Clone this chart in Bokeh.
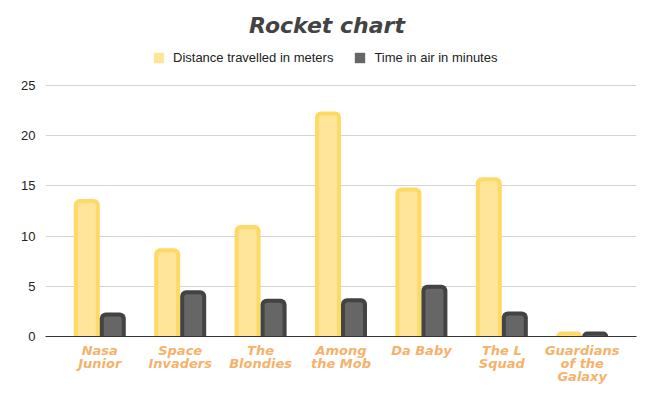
from bokeh.plotting import figure
from bokeh.models import FactorRange, Range1d, ColumnDataSource, Legend, LegendItem, FixedTicker, Label
from bokeh.transform import dodge
from bokeh.embed import file_html
from bokeh.resources import INLINE

# ---- data ----
teams = ["Nasa\nJunior", "Space\nInvaders", "The\nBlondies", "Among\nthe Mob",
         "Da Baby", "The L\nSquad", "Guardians\nof the\nGalaxy"]
distance_m = [13.7, 8.8, 11.1, 22.4, 14.85, 15.85, 0.5]
time_min = [2.4, 4.6, 3.75, 3.8, 5.15, 2.5, 0.5]
series_names = ["Distance travelled in meters", "Time in air in minutes"]
y_ticks = [0, 5, 10, 15, 20, 25]
chart_title = "Rocket chart"

# ---- layout constants ----
W, H = 653, 398
B_LEFT, B_RIGHT, B_TOP, B_BOTTOM = 45, 17, 0, 62
TOP_GAP = 85  # space above the 25 gridline, used for title + legend
FRAME_W = W - B_LEFT - B_RIGHT
FRAME_H = H - B_TOP - B_BOTTOM
PAD = 0.175
Y_MAX = 25
Y_END = Y_MAX * FRAME_H / (FRAME_H - TOP_GAP)
BORDER_PX = 4
px_x = (len(teams) + 2 * PAD) / FRAME_W
px_y = Y_END / FRAME_H
BAR_PX = 26
outer_w = BAR_PX * px_x
inner_w = (BAR_PX - 2 * BORDER_PX) * px_x
inset = BORDER_PX * px_y
off = outer_w / 2

src = ColumnDataSource(dict(
    team=teams,
    dist=distance_m,
    time=time_min,
    dist_in=[max(0, v - inset) for v in distance_m],
    time_in=[max(0, v - inset) for v in time_min],
))

p = figure(width=W, height=H, output_backend="svg", toolbar_location=None,
           x_range=FactorRange(factors=teams, range_padding=PAD, range_padding_units="absolute"),
           y_range=Range1d(0, Y_END),
           min_border_left=B_LEFT, min_border_right=B_RIGHT,
           min_border_top=B_TOP, min_border_bottom=B_BOTTOM)
p.outline_line_color = None
p.background_fill_color = "white"
p.border_fill_color = "white"

Y_C = ["#FFD966", "#FFE599"]
D_C = ["#434343", "#666666"]

x1 = dodge("team", -off, range=p.x_range)
x2 = dodge("team", off, range=p.x_range)
p.vbar(x=x1, top="dist", width=outer_w, source=src, fill_color=Y_C[0], line_color=None,
       border_radius=(6, 6, 0, 0))
r1 = p.vbar(x=x1, top="dist_in", width=inner_w, source=src, fill_color=Y_C[1], line_color=None,
            border_radius=(3, 3, 0, 0))
p.vbar(x=x2, top="time", width=outer_w, source=src, fill_color=D_C[0], line_color=None,
       border_radius=(6, 6, 0, 0))
r2 = p.vbar(x=x2, top="time_in", width=inner_w, source=src, fill_color=D_C[1], line_color=None,
            border_radius=(3, 3, 0, 0))

legend = Legend(items=[LegendItem(label=series_names[0], renderers=[r1]),
                       LegendItem(label=series_names[1], renderers=[r2])],
                orientation="horizontal", location=(107, FRAME_H - 65),
                glyph_width=13, glyph_height=13, label_standoff=8, spacing=20,
                label_text_font="Liberation Sans", label_text_font_size="13px",
                label_text_color="#222222", border_line_color=None,
                background_fill_alpha=0, margin=0, padding=0)
p.add_layout(legend)

title = Label(x=W / 2 - B_LEFT, y=FRAME_H - 25, x_units="screen", y_units="screen",
              text=chart_title, text_align="center", text_baseline="alphabetic",
              text_font="DejaVu Sans", text_font_style="bold italic",
              text_font_size="22px", text_color="#434343")
p.add_layout(title)

# axes
p.yaxis.ticker = FixedTicker(ticks=y_ticks)
p.yaxis.axis_line_color = None
p.yaxis.major_tick_line_color = None
p.yaxis.minor_tick_line_color = None
p.yaxis.major_label_text_font = "Liberation Sans"
p.yaxis.major_label_text_font_size = "13px"
p.yaxis.major_label_text_color = "#222222"
p.yaxis.major_label_standoff = 4

p.xaxis.axis_line_color = "#333333"
p.xaxis.axis_line_width = 1
p.xaxis.major_tick_line_color = None
p.xaxis.minor_tick_line_color = None
p.xaxis.major_label_text_font = "DejaVu Sans"
p.xaxis.major_label_text_font_style = "bold italic"
p.xaxis.major_label_text_font_size = "13px"
p.xaxis.major_label_text_color = "#F6B26B"
p.xaxis.major_label_text_line_height = 0.87
p.xaxis.major_label_standoff = 0

p.xgrid.grid_line_color = None
p.ygrid.grid_line_color = "#d4d4d4"
p.ygrid.grid_line_width = 1

open("out.html", "w").write(file_html(p, INLINE))
